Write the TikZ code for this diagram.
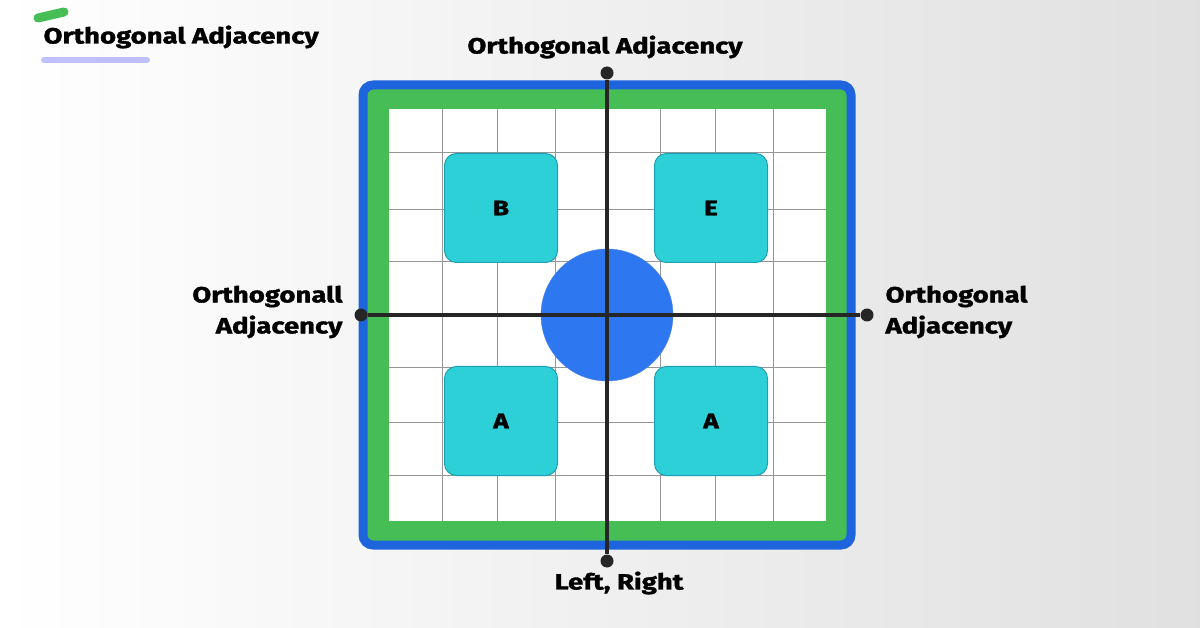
\documentclass[tikz,border=0pt]{standalone}
\usepackage{fontspec}
\setmainfont{Fira Sans}[BoldFont={Fira Sans Bold},BoldFeatures={FakeStretch=1.25,FakeBold=1.5}]
\usetikzlibrary{positioning}
\definecolor{frameblue}{RGB}{30,100,220}
\definecolor{framegreen}{RGB}{70,190,85}
\definecolor{tealbox}{RGB}{45,208,215}
\definecolor{tealedge}{RGB}{30,160,180}
\definecolor{hubblue}{RGB}{45,120,240}
\definecolor{gridgray}{RGB}{150,150,150}
\tikzset{
  room/.style={rounded corners=12, fill=tealbox, draw=tealedge, line width=1pt, minimum width=113, minimum height=109, font=\fontsize{21}{24}\selectfont\bfseries},
  lbl/.style={font=\fontsize{22}{31}\selectfont\bfseries, align=center},
  enddot/.style={circle, fill=black!85, inner sep=0pt, minimum size=13},
}
\begin{document}
\begin{tikzpicture}[x=1pt,y=-1pt]
\useasboundingbox (0,0) rectangle (1200,628);
% background
\shade[left color=white, right color=black!12] (0,0) rectangle (1200,628);
% heading
\draw[framegreen, line width=9, line cap=round] (38,18) -- (64,12);
\draw[blue!25, line width=6, line cap=round] (44,60) -- (147,60);
\node[lbl, anchor=west] (head) at (40,37) {Orthogonal Adjacency};
% frame
\draw[frameblue, fill=framegreen, line width=9, rounded corners=10] (363,85) rectangle (851,545);
\fill[white] (389,109) rectangle (826,521);
\foreach \x in {442,497,555,608,660,715,773}
  \draw[gridgray, line width=1] (\x,109) -- (\x,521);
\foreach \y in {153,210,262,315,368,422,475}
  \draw[gridgray, line width=1] (389,\y) -- (826,\y);
% rooms
\node[room] (roomB) at (501,208) {B};
\node[room] (roomE) at (711,208) {E};
\node[room] (roomA1) at (501,421) {A};
\node[room] (roomA2) at (711,421) {A};
\node[circle, fill=hubblue, draw=frameblue!80, minimum size=132] (hub) at (607,315) {};
% axes
\node[enddot] (top) at (607,73) {};
\node[enddot] (bot) at (607,561) {};
\node[enddot] (lft) at (361,315) {};
\node[enddot] (rgt) at (867,315) {};
\draw[black!85, line width=4] (top) -- (bot);
\draw[black!85, line width=4] (lft) -- (rgt);
% labels
\node[lbl] (ltop) at (605,47) {Orthogonal Adjacency};
\node[lbl] (lbot) at (619,583) {Left, Right};
\node[lbl, anchor=east, align=right] (llft) at (346,312) {Orthogonall\\Adjacency};
\node[lbl, anchor=west, align=left] (lrgt) at (882,312) {Orthogonal\\Adjacency};
\end{tikzpicture}
\end{document}
